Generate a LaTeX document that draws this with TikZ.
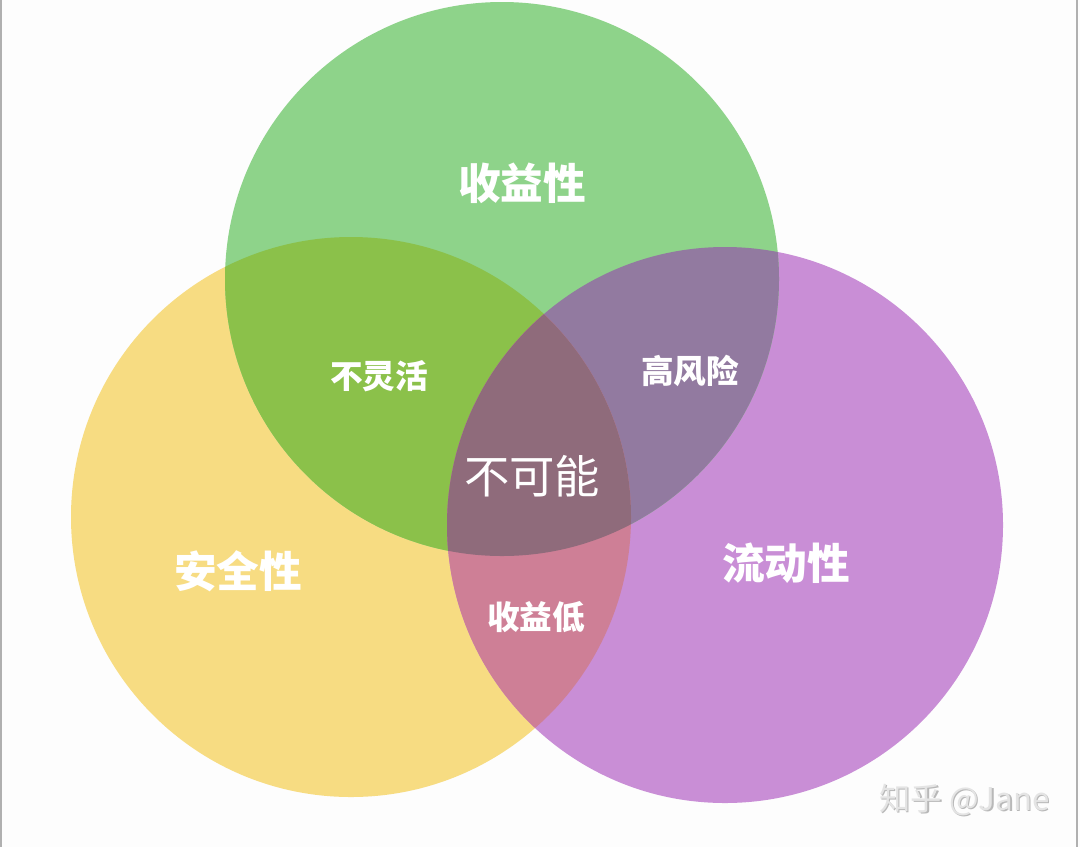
\documentclass[tikz,border=0pt]{standalone}
\usepackage{fontspec}
\newfontfamily\cjk{Noto Sans CJK SC}
\definecolor{bgc}{HTML}{FDFDFD}
\definecolor{gonly}{HTML}{8ED38A}
\definecolor{yonly}{HTML}{F7DC82}
\definecolor{ponly}{HTML}{C98ED6}
\definecolor{gy}{HTML}{8BC14A}
\definecolor{gp}{HTML}{927AA0}
\definecolor{yp}{HTML}{CE7F96}
\definecolor{gyp}{HTML}{8F6B7B}
\definecolor{edgec}{HTML}{B0B0B0}
\definecolor{wmark}{HTML}{E4E4E4}
\definecolor{wshadow}{HTML}{B8B8B8}
\tikzset{
  bigl/.style={text=white, font=\cjk\bfseries\fontsize{32}{36}\selectfont, inner sep=0pt},
  midl/.style={text=white, font=\cjk\bfseries\fontsize{24.5}{28}\selectfont, inner sep=0pt},
  cenl/.style={text=white, font=\cjk\fontsize{34}{38}\selectfont, inner sep=0pt},
  wml/.style={font=\cjk\fontsize{23.5}{26}\selectfont, inner sep=0pt},
}
\begin{document}
\begin{tikzpicture}[x=0.75pt, y=-0.75pt]
\useasboundingbox (0,0) rectangle (1080,847);
\fill[bgc] (0,0) rectangle (1080,847);
\draw[edgec, line width=1.5pt] (1,0) -- (1,847);
\draw[edgec, line width=1.5pt] (1077,0) -- (1077,847);
\coordinate (cg) at (502,279);
\coordinate (cy) at (351,517);
\coordinate (cp) at (725,525);
\def\rg{277}
\def\ry{280}
\def\rp{278}
% single regions
\fill[yonly] (cy) circle (\ry);
\fill[ponly] (cp) circle (\rp);
\fill[gonly] (cg) circle (\rg);
% pairwise
\begin{scope}
  \clip (cg) circle (\rg);
  \fill[gy] (cy) circle (\ry);
  \fill[gp] (cp) circle (\rp);
\end{scope}
\begin{scope}
  \clip (cy) circle (\ry);
  \fill[yp] (cp) circle (\rp);
\end{scope}
% triple
\begin{scope}
  \clip (cg) circle (\rg);
  \clip (cy) circle (\ry);
  \fill[gyp] (cp) circle (\rp);
\end{scope}
% labels
\node[bigl] (shouyi) at (522,183) {收益性};
\node[bigl] (anquan) at (238,571) {安全性};
\node[bigl] (liudong) at (786,563) {流动性};
\node[midl] (buling) at (379,376) {不灵活};
\node[midl] (gaofeng) at (690,371) {高风险};
\node[midl] (shouyidi) at (536,617) {收益低};
\node[cenl] (bukeneng) at (532,476) {不可能};
% watermark
\node[wml, text=wshadow] (wms) at (966,801.5) {知乎 @Jane};
\node[wml, text=wmark] (wm) at (964.5,800) {知乎 @Jane};
\end{tikzpicture}
\end{document}
